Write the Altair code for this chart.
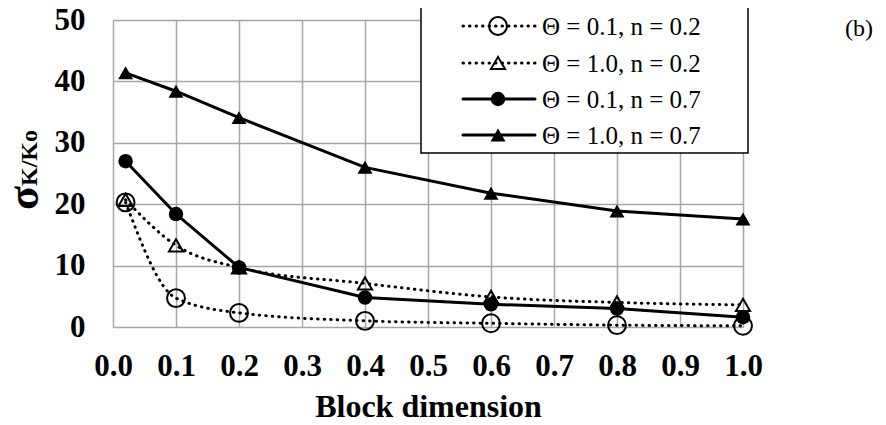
import altair as alt
import pandas as pd

# ---- data ----
x_vals = [0.02, 0.1, 0.2, 0.4, 0.6, 0.8, 1.0]
labels = ["Θ = 0.1, n = 0.2", "Θ = 1.0, n = 0.2", "Θ = 0.1, n = 0.7", "Θ = 1.0, n = 0.7"]
s_t01_n02 = [20.3, 4.7, 2.3, 1.0, 0.6, 0.3, 0.2]
s_t10_n02 = [20.7, 13.3, 9.7, 7.1, 4.9, 4.0, 3.6]
s_t01_n07 = [27.0, 18.4, 9.7, 4.8, 3.7, 3.0, 1.6]
s_t10_n07 = [41.4, 38.4, 34.1, 26.0, 21.8, 18.9, 17.6]
series_values = [s_t01_n02, s_t10_n02, s_t01_n07, s_t10_n07]

x_ticks = [0.0, 0.1, 0.2, 0.3, 0.4, 0.5, 0.6, 0.7, 0.8, 0.9, 1.0]
y_ticks = [0, 10, 20, 30, 40, 50]

FONT = "Liberation Serif"

styles = [
    dict(dash=[0.5, 6], shape="circle", filled=False, size=320, interp="monotone"),
    dict(dash=[0.5, 6], shape="triangle-up", filled=False, size=200, interp="monotone"),
    dict(dash=None, shape="circle", filled=True, size=210, interp="linear"),
    dict(dash=None, shape="triangle-up", filled=True, size=225, interp="linear"),
]

x_scale = alt.Scale(domain=[0, 1], nice=False, zero=False)
y_scale = alt.Scale(domain=[0, 50], nice=False)

x_axis = alt.Axis(values=x_ticks, format=".1f", ticks=False, labelPadding=24,
                  labelFont=FONT, labelFontSize=31, labelFontWeight="bold", labelColor="black",
                  title="Block dimension", titleFont=FONT, titleFontSize=32, titleFontWeight="bold",
                  titleColor="black", titlePadding=10, domain=False,
                  grid=True, gridColor="#a6a6a6", gridWidth=1.5, labelFlush=False)
y_axis = alt.Axis(values=y_ticks, format="d", ticks=False, labelPadding=28,
                  labelFont=FONT, labelFontSize=31, labelFontWeight="bold", labelColor="black",
                  title="", domain=False,
                  grid=True, gridColor="#a6a6a6", gridWidth=1.5)

rows = []
for lab, vals in zip(labels, series_values):
    for xv, yv in zip(x_vals, vals):
        rows.append({"x": xv, "y": yv, "series": lab})
df = pd.DataFrame(rows)

enc_x = alt.X("x:Q", scale=x_scale, axis=x_axis)
enc_y = alt.Y("y:Q", scale=y_scale, axis=y_axis)

chart_layers = []
for lab, st in zip(labels, styles):
    d = df[df.series == lab]
    line_kwargs = dict(color="black", strokeWidth=3, interpolate=st["interp"], strokeCap="round")
    if st["dash"]:
        line_kwargs["strokeDash"] = st["dash"]
    chart_layers.append(alt.Chart(d).mark_line(**line_kwargs).encode(x=enc_x, y=enc_y))

def point_style(st):
    pk = dict(shape=st["shape"], size=st["size"], opacity=1)
    if st["filled"]:
        pk.update(filled=True, color="black", strokeWidth=0)
    else:
        pk.update(filled=False, stroke="black", strokeWidth=2)
    return pk

for lab, st in zip(labels, styles):
    d = df[df.series == lab]
    chart_layers.append(alt.Chart(d).mark_point(**point_style(st)).encode(x=enc_x, y=enc_y))

# ---- manual legend (positions relative to plot area) ----
one = pd.DataFrame({"k": [0]})
chart_layers.append(alt.Chart(one).mark_rect(fill="white", stroke="black", strokeWidth=1.5).encode(
    x=alt.value(308), x2=alt.value(635), y=alt.value(-14), y2=alt.value(133)))
row_y = [6, 43, 79, 115]
for lab, st, ry in zip(labels, styles, row_y):
    rk = dict(color="black", strokeWidth=3, strokeCap="round")
    if st["dash"]:
        rk["strokeDash"] = st["dash"]
    chart_layers.append(alt.Chart(one).mark_rule(**rk).encode(
        x=alt.value(350), x2=alt.value(422), y=alt.value(ry)))
    chart_layers.append(alt.Chart(one).mark_point(**point_style(st)).encode(
        x=alt.value(385), y=alt.value(ry)))
    chart_layers.append(alt.Chart(pd.DataFrame({"t": [lab]})).mark_text(
        font=FONT, fontSize=25, align="left", baseline="middle", color="black").encode(
        text="t:N", x=alt.value(429), y=alt.value(ry + 1)))

# y title with subscript
chart_layers.append(alt.Chart(pd.DataFrame({"t": ["σ"]})).mark_text(
    font=FONT, fontSize=44, fontWeight="bold", angle=270, align="center", baseline="middle",
    color="black").encode(text="t:N", x=alt.value(-88), y=alt.value(178)))
chart_layers.append(alt.Chart(pd.DataFrame({"t": ["K/Ko"]})).mark_text(
    font=FONT, fontSize=24, fontWeight="bold", angle=270, align="center", baseline="middle",
    color="black").encode(text="t:N", x=alt.value(-83), y=alt.value(138)))
# panel label
chart_layers.append(alt.Chart(pd.DataFrame({"t": ["(b)"]})).mark_text(
    font=FONT, fontSize=24, align="center", baseline="middle", color="black").encode(
    text="t:N", x=alt.value(746), y=alt.value(9)))

chart = alt.layer(*chart_layers).properties(
    width=630, height=307,
    autosize=alt.AutoSizeParams(type="none"),
    padding={"left": 105, "top": 12, "right": 135, "bottom": 98},
).configure_view(stroke="#a6a6a6", strokeWidth=1.5).configure(background="white")

chart.save("out.html", embed_options={"renderer": "svg", "actions": False})
